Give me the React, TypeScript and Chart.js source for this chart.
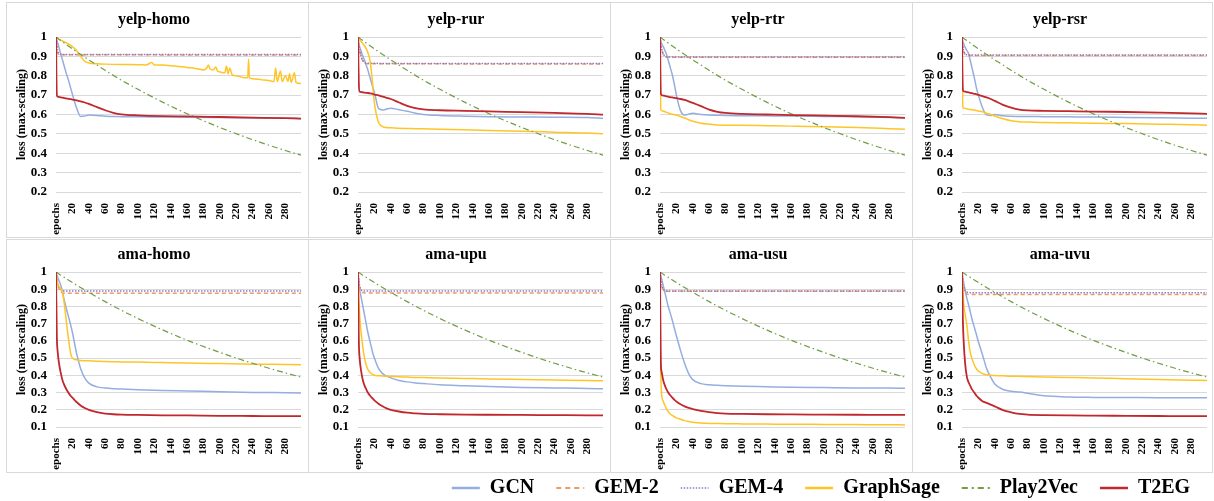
import React, { useEffect, useRef } from 'react';
import { Chart, registerables } from 'chart.js';

Chart.register(...registerables);

const FONT = '"Liberation Serif", "Times New Roman", serif';

// ---- shared axes / categories ----
const EPOCHS = [0, 1, 2, 4, 6, 8, 10, 12, 15, 18, 20, 25, 30, 35, 40, 50, 60, 70, 80, 100, 130, 160, 200, 240, 280, 299];
const GEM_EPOCHS = [0, 1, 2, 4, 6, 8, 10, 299];
const X_TICKS = [0, 20, 40, 60, 80, 100, 120, 140, 160, 180, 200, 220, 240, 260, 280];
const X_TICK_LABELS = ['epochs', '20', '40', '60', '80', '100', '120', '140', '160', '180', '200', '220', '240', '260', '280'];
const SERIES_NAMES = ['GCN', 'GEM-2', 'GEM-4', 'GraphSage', 'Play2Vec', 'T2EG'];
const PANEL_TITLES = ['yelp-homo', 'yelp-rur', 'yelp-rtr', 'yelp-rsr', 'ama-homo', 'ama-upu', 'ama-usu', 'ama-uvu'];
const Y_MIN = [0.2, 0.2, 0.2, 0.2, 0.1, 0.1, 0.1, 0.1];

// Play2Vec (same shape in every panel)
const PLAY2VEC = [1, 0.997, 0.994, 0.987, 0.981, 0.975, 0.969, 0.963, 0.954, 0.945, 0.939, 0.924, 0.91, 0.896, 0.882, 0.855, 0.828, 0.802, 0.777, 0.73, 0.664, 0.604, 0.533, 0.47, 0.414, 0.39];

// ---- yelp-homo ----
const YH_GCN = [1, 0.985, 0.97, 0.94, 0.91, 0.88, 0.85, 0.82, 0.78, 0.735, 0.705, 0.635, 0.59, 0.592, 0.597, 0.595, 0.591, 0.59, 0.589, 0.588, 0.587, 0.586, 0.584, 0.582, 0.58, 0.578];
const YH_GEM2 = [1, 0.95, 0.92, 0.909, 0.908, 0.908, 0.908, 0.907];
const YH_GEM4 = [1, 0.96, 0.93, 0.913, 0.911, 0.91, 0.91, 0.91];
const YH_SAGE_EPOCHS = [0, 5, 10, 15, 20, 25, 30, 35, 40, 50, 60, 80, 100, 110, 117, 120, 130, 140, 150, 160, 170, 180, 184, 186, 188, 192, 195, 197, 200, 206, 208, 210, 212, 215, 220, 225, 230, 234, 235, 236, 240, 250, 260, 266, 268, 270, 274, 276, 280, 283, 285, 287, 291, 293, 299];
const YH_SAGE = [1, 0.985, 0.975, 0.965, 0.95, 0.93, 0.9, 0.875, 0.866, 0.862, 0.86, 0.858, 0.857, 0.856, 0.868, 0.855, 0.855, 0.852, 0.848, 0.843, 0.838, 0.83, 0.84, 0.855, 0.835, 0.83, 0.845, 0.825, 0.82, 0.815, 0.85, 0.81, 0.84, 0.805, 0.8, 0.795, 0.79, 0.79, 0.885, 0.79, 0.785, 0.78, 0.775, 0.77, 0.84, 0.77, 0.825, 0.77, 0.8, 0.77, 0.81, 0.765, 0.815, 0.765, 0.76];
const YH_T2EG = [1, 0.7, 0.692, 0.69, 0.688, 0.687, 0.685, 0.683, 0.681, 0.679, 0.677, 0.673, 0.668, 0.662, 0.655, 0.638, 0.622, 0.609, 0.601, 0.596, 0.592, 0.59, 0.587, 0.584, 0.581, 0.579];

// ---- yelp-rur ----
const YR_GCN = [1, 0.97, 0.95, 0.925, 0.9, 0.88, 0.855, 0.83, 0.785, 0.74, 0.715, 0.632, 0.623, 0.628, 0.632, 0.625, 0.617, 0.607, 0.6, 0.595, 0.591, 0.588, 0.587, 0.586, 0.584, 0.58];
const YR_GEM2 = [1, 0.96, 0.93, 0.895, 0.875, 0.866, 0.862, 0.861];
const YR_GEM4 = [1, 0.965, 0.935, 0.898, 0.878, 0.868, 0.864, 0.863];
const YR_SAGE = [1, 0.99, 0.985, 0.975, 0.965, 0.955, 0.94, 0.92, 0.87, 0.75, 0.66, 0.56, 0.538, 0.532, 0.531, 0.529, 0.528, 0.527, 0.526, 0.524, 0.521, 0.518, 0.514, 0.509, 0.504, 0.5];
const YR_T2EG = [1, 0.76, 0.718, 0.716, 0.714, 0.713, 0.712, 0.711, 0.709, 0.706, 0.703, 0.699, 0.692, 0.686, 0.68, 0.662, 0.645, 0.633, 0.626, 0.622, 0.619, 0.616, 0.612, 0.608, 0.603, 0.599];

// ---- yelp-rtr ----
const YT_GCN = [1, 0.98, 0.965, 0.95, 0.93, 0.91, 0.88, 0.85, 0.805, 0.745, 0.7, 0.62, 0.597, 0.602, 0.606, 0.6, 0.597, 0.596, 0.595, 0.594, 0.593, 0.592, 0.59, 0.588, 0.585, 0.583];
const YT_GEM2 = [1, 0.96, 0.935, 0.91, 0.9, 0.896, 0.895, 0.895];
const YT_GEM4 = [1, 0.965, 0.94, 0.913, 0.902, 0.898, 0.897, 0.897];
const YT_SAGE = [1, 0.625, 0.62, 0.617, 0.614, 0.611, 0.608, 0.605, 0.602, 0.599, 0.597, 0.59, 0.582, 0.573, 0.565, 0.555, 0.55, 0.546, 0.545, 0.544, 0.542, 0.54, 0.537, 0.533, 0.527, 0.524];
const YT_T2EG = [1, 0.71, 0.7, 0.698, 0.696, 0.694, 0.692, 0.69, 0.688, 0.686, 0.684, 0.68, 0.675, 0.668, 0.66, 0.643, 0.625, 0.614, 0.608, 0.603, 0.6, 0.597, 0.594, 0.591, 0.586, 0.583];

// ---- yelp-rsr ----
const YS_GCN = [1, 0.98, 0.965, 0.945, 0.93, 0.915, 0.88, 0.845, 0.79, 0.73, 0.7, 0.635, 0.598, 0.595, 0.6, 0.593, 0.591, 0.59, 0.59, 0.589, 0.588, 0.587, 0.585, 0.583, 0.581, 0.58];
const YS_GEM2 = [1, 0.95, 0.925, 0.91, 0.906, 0.905, 0.905, 0.905];
const YS_GEM4 = [1, 0.955, 0.93, 0.913, 0.908, 0.907, 0.907, 0.907];
const YS_SAGE = [1, 0.64, 0.633, 0.631, 0.629, 0.627, 0.626, 0.625, 0.623, 0.62, 0.618, 0.614, 0.607, 0.6, 0.592, 0.578, 0.568, 0.563, 0.561, 0.559, 0.557, 0.555, 0.553, 0.55, 0.547, 0.545];
const YS_T2EG = [1, 0.73, 0.72, 0.718, 0.716, 0.714, 0.712, 0.71, 0.707, 0.704, 0.701, 0.695, 0.688, 0.68, 0.67, 0.65, 0.635, 0.625, 0.621, 0.619, 0.617, 0.615, 0.613, 0.61, 0.606, 0.603];

// ---- ama-homo ----
const AH_GCN = [1, 0.985, 0.97, 0.945, 0.92, 0.88, 0.84, 0.8, 0.745, 0.69, 0.65, 0.53, 0.44, 0.385, 0.355, 0.333, 0.326, 0.322, 0.32, 0.316, 0.312, 0.309, 0.305, 0.301, 0.299, 0.298];
const AH_GEM2 = [1, 0.96, 0.93, 0.9, 0.885, 0.878, 0.876, 0.876];
const AH_GEM4 = [1, 0.965, 0.94, 0.91, 0.897, 0.892, 0.89, 0.89];
const AH_SAGE = [1, 0.96, 0.93, 0.915, 0.9, 0.88, 0.82, 0.74, 0.62, 0.525, 0.5, 0.49, 0.486, 0.485, 0.484, 0.482, 0.48, 0.479, 0.478, 0.477, 0.474, 0.471, 0.468, 0.465, 0.463, 0.462];
const AH_T2EG = [1, 0.63, 0.54, 0.46, 0.41, 0.37, 0.345, 0.325, 0.3, 0.28, 0.27, 0.245, 0.225, 0.21, 0.2, 0.186, 0.178, 0.174, 0.172, 0.17, 0.168, 0.167, 0.165, 0.164, 0.163, 0.163];

// ---- ama-upu ----
const AP_GCN = [1, 0.95, 0.9, 0.85, 0.8, 0.75, 0.7, 0.65, 0.59, 0.53, 0.5, 0.44, 0.41, 0.395, 0.385, 0.37, 0.362, 0.356, 0.352, 0.345, 0.34, 0.335, 0.33, 0.327, 0.324, 0.322];
const AP_GEM2 = [1, 0.95, 0.91, 0.885, 0.88, 0.878, 0.878, 0.878];
const AP_GEM4 = [1, 0.955, 0.92, 0.895, 0.891, 0.89, 0.89, 0.89];
const AP_SAGE = [1, 0.85, 0.75, 0.64, 0.56, 0.5, 0.46, 0.435, 0.415, 0.405, 0.4, 0.398, 0.396, 0.395, 0.394, 0.392, 0.39, 0.388, 0.387, 0.385, 0.382, 0.379, 0.376, 0.373, 0.37, 0.368];
const AP_T2EG = [1, 0.6, 0.5, 0.42, 0.37, 0.34, 0.32, 0.3, 0.28, 0.265, 0.255, 0.235, 0.22, 0.208, 0.2, 0.19, 0.183, 0.179, 0.176, 0.174, 0.172, 0.171, 0.17, 0.169, 0.168, 0.168];

// ---- ama-usu ----
const AS_GCN = [1, 0.98, 0.96, 0.92, 0.88, 0.84, 0.8, 0.77, 0.72, 0.665, 0.63, 0.545, 0.47, 0.41, 0.375, 0.352, 0.345, 0.342, 0.34, 0.337, 0.334, 0.331, 0.329, 0.327, 0.326, 0.325];
const AS_GEM2 = [1, 0.95, 0.92, 0.895, 0.89, 0.888, 0.888, 0.888];
const AS_GEM4 = [1, 0.955, 0.925, 0.898, 0.892, 0.89, 0.89, 0.89];
const AS_SAGE = [0.64, 0.4, 0.29, 0.25, 0.225, 0.205, 0.19, 0.178, 0.167, 0.158, 0.153, 0.145, 0.137, 0.132, 0.128, 0.123, 0.121, 0.12, 0.119, 0.118, 0.117, 0.116, 0.115, 0.114, 0.113, 0.112];
const AS_T2EG = [1, 0.48, 0.42, 0.37, 0.34, 0.318, 0.3, 0.287, 0.27, 0.256, 0.248, 0.232, 0.22, 0.211, 0.204, 0.193, 0.186, 0.181, 0.178, 0.176, 0.174, 0.173, 0.172, 0.171, 0.17, 0.17];

// ---- ama-uvu ----
const AV_GCN = [1, 0.97, 0.94, 0.89, 0.845, 0.81, 0.77, 0.73, 0.68, 0.63, 0.595, 0.52, 0.44, 0.39, 0.35, 0.318, 0.308, 0.303, 0.296, 0.281, 0.274, 0.272, 0.271, 0.27, 0.27, 0.27];
const AV_GEM2 = [1, 0.95, 0.91, 0.88, 0.872, 0.87, 0.87, 0.87];
const AV_GEM4 = [1, 0.955, 0.92, 0.89, 0.883, 0.881, 0.88, 0.88];
const AV_SAGE = [1, 0.92, 0.82, 0.75, 0.69, 0.6, 0.535, 0.5, 0.46, 0.435, 0.425, 0.41, 0.403, 0.4, 0.399, 0.397, 0.395, 0.394, 0.393, 0.391, 0.388, 0.385, 0.38, 0.376, 0.372, 0.37];
const AV_T2EG = [1, 0.73, 0.6, 0.46, 0.39, 0.36, 0.34, 0.32, 0.3, 0.28, 0.27, 0.25, 0.24, 0.23, 0.22, 0.198, 0.185, 0.176, 0.172, 0.169, 0.167, 0.166, 0.165, 0.164, 0.163, 0.163];

type Series = { x: number[]; y: number[] };
const S = (y: number[], x: number[] = EPOCHS): Series => ({ x, y });
const G = (y: number[]): Series => ({ x: GEM_EPOCHS, y });

const PANEL_SERIES: Series[][] = [
  [S(YH_GCN), G(YH_GEM2), G(YH_GEM4), S(YH_SAGE, YH_SAGE_EPOCHS), S(PLAY2VEC), S(YH_T2EG)],
  [S(YR_GCN), G(YR_GEM2), G(YR_GEM4), S(YR_SAGE), S(PLAY2VEC), S(YR_T2EG)],
  [S(YT_GCN), G(YT_GEM2), G(YT_GEM4), S(YT_SAGE), S(PLAY2VEC), S(YT_T2EG)],
  [S(YS_GCN), G(YS_GEM2), G(YS_GEM4), S(YS_SAGE), S(PLAY2VEC), S(YS_T2EG)],
  [S(AH_GCN), G(AH_GEM2), G(AH_GEM4), S(AH_SAGE), S(PLAY2VEC), S(AH_T2EG)],
  [S(AP_GCN), G(AP_GEM2), G(AP_GEM4), S(AP_SAGE), S(PLAY2VEC), S(AP_T2EG)],
  [S(AS_GCN), G(AS_GEM2), G(AS_GEM4), S(AS_SAGE), S(PLAY2VEC), S(AS_T2EG)],
  [S(AV_GCN), G(AV_GEM2), G(AV_GEM4), S(AV_SAGE), S(PLAY2VEC), S(AV_T2EG)],
];

// ---- styles ----
const STYLES = [
  { color: '#95aee0', width: 1.5, dash: [] as number[], order: 5, legendWidth: 2.5, legendDash: [] as number[] },
  { color: '#ee9a66', width: 1.5, dash: [4, 3], order: 4, legendWidth: 2, legendDash: [5, 4] },
  { color: '#8e7cc3', width: 1.5, dash: [1.5, 1.5], order: 3, legendWidth: 1.5, legendDash: [1.5, 1.5] },
  { color: '#ffc527', width: 1.5, dash: [] as number[], order: 2, legendWidth: 2.5, legendDash: [] as number[] },
  { color: '#6f9e45', width: 1.2, dash: [6, 3, 1.5, 3], order: 1, legendWidth: 2, legendDash: [6, 4, 2, 4] },
  { color: '#c0282d', width: 1.8, dash: [] as number[], order: 0, legendWidth: 2.5, legendDash: [] as number[] },
];

const COL_LEFT = [6, 308, 610, 912];
const COL_W = [303, 303, 303, 301];
const ROW_TOP = [2, 239];
const ROW_H = [236, 234];

function Panel({ idx }: { idx: number }) {
  const ref = useRef<HTMLCanvasElement>(null);
  const row = idx < 4 ? 0 : 1;
  const col = idx % 4;
  const w = COL_W[col];
  const h = ROW_H[row];
  const cw = w - 2;
  const ch = h - 2;
  const chartTop = row === 0 ? 34 : 32;
  const plotH = 155;
  const yW = 49;
  const plotW = 245;
  const titleTop = chartTop - 27;
  const titleBottom = chartTop - 19.2 - titleTop;

  useEffect(() => {
    if (!ref.current) return;
    const series = PANEL_SERIES[idx];
    const chart = new Chart(ref.current, {
      type: 'line',
      data: {
        datasets: series.map((s, i) => ({
          label: SERIES_NAMES[i],
          data: s.x.map((x, j) => ({ x, y: s.y[j] })),
          borderColor: STYLES[i].color,
          backgroundColor: STYLES[i].color,
          borderWidth: STYLES[i].width,
          borderDash: STYLES[i].dash,
          pointRadius: 0,
          cubicInterpolationMode: 'monotone' as const,
          order: STYLES[i].order,
          fill: false,
        })),
      },
      options: {
        responsive: false,
        maintainAspectRatio: false,
        animation: false,
        events: [],
        layout: { padding: { left: 0, right: cw - yW - plotW, top: 0, bottom: 0 } },
        plugins: {
          legend: { display: false },
          tooltip: { enabled: false },
          title: {
            display: true,
            text: PANEL_TITLES[idx],
            color: '#000',
            font: { family: FONT, size: 16, weight: 'bold' },
            padding: { top: titleTop, bottom: titleBottom },
          },
        },
        scales: {
          x: {
            type: 'linear',
            min: 0,
            max: 299,
            grid: { display: false },
            border: { display: false },
            afterBuildTicks: (axis: any) => {
              axis.ticks = X_TICKS.map((v) => ({ value: v }));
            },
            afterFit: (axis: any) => {
              axis.height = ch - chartTop - plotH;
            },
            ticks: {
              autoSkip: false,
              minRotation: 90,
              maxRotation: 90,
              padding: 3,
              color: '#000',
              font: { family: FONT, size: 11, weight: 'bold' },
              callback: (v: any) => {
                const k = X_TICKS.indexOf(Number(v));
                return k >= 0 ? X_TICK_LABELS[k] : '';
              },
            },
          },
          y: {
            type: 'linear',
            min: Y_MIN[idx],
            max: 1,
            border: { display: false },
            grid: { color: '#d9d9d9', lineWidth: 1, drawTicks: false },
            afterFit: (axis: any) => {
              axis.width = yW;
            },
            ticks: {
              stepSize: 0.1,
              autoSkip: false,
              padding: 9,
              color: '#000',
              font: { family: FONT, size: 13, weight: 'bold' },
              callback: (v: any) => String(Math.round(Number(v) * 10) / 10),
            },
            title: {
              display: true,
              text: 'loss (max-scaling)',
              color: '#000',
              font: { family: FONT, size: 12, weight: 'bold' },
              padding: { top: 8, bottom: 0 },
            },
          },
        },
      },
    } as any);
    return () => chart.destroy();
  }, [idx]);

  return (
    <div
      style={{
        position: 'absolute',
        left: COL_LEFT[col],
        top: ROW_TOP[row],
        width: w,
        height: h,
        border: '1px solid #d9d9d9',
        boxSizing: 'border-box',
        background: '#fff',
      }}
    >
      <canvas ref={ref} width={cw} height={ch} style={{ display: 'block', width: cw, height: ch }} />
    </div>
  );
}

const LEGEND_W = 900;
const LEGEND_H = 160;

function Legend() {
  const ref = useRef<HTMLCanvasElement>(null);
  useEffect(() => {
    if (!ref.current) return;
    const chart = new Chart(ref.current, {
      type: 'line',
      data: {
        datasets: SERIES_NAMES.map((name, i) => ({
          label: name,
          data: [],
          borderColor: STYLES[i].color,
          backgroundColor: STYLES[i].color,
          borderWidth: STYLES[i].legendWidth,
          borderDash: STYLES[i].legendDash,
        })),
      },
      options: {
        responsive: false,
        maintainAspectRatio: false,
        animation: false,
        events: [],
        layout: { padding: 0 },
        scales: { x: { display: false }, y: { display: false } },
        plugins: {
          tooltip: { enabled: false },
          title: { display: false },
          legend: {
            display: true,
            position: 'top',
            align: 'center',
            labels: {
              usePointStyle: true,
              pointStyle: 'line',
              pointStyleWidth: 28,
              padding: 22,
              color: '#000',
              font: { family: FONT, size: 20, weight: 'bold' },
              generateLabels: (c: any) => {
                const items = (Chart.defaults as any).plugins.legend.labels.generateLabels(c);
                return items.map((it: any, i: number) => ({
                  ...it,
                  strokeStyle: STYLES[i].color,
                  fillStyle: STYLES[i].color,
                  lineWidth: STYLES[i].legendWidth,
                  lineDash: STYLES[i].legendDash,
                  pointStyle: 'line',
                }));
              },
            },
          },
        },
      },
    } as any);
    return () => chart.destroy();
  }, []);
  return (
    <canvas
      ref={ref}
      width={LEGEND_W}
      height={LEGEND_H}
      style={{ position: 'absolute', left: 821 - LEGEND_W / 2, top: 456, width: LEGEND_W, height: LEGEND_H, display: 'block' }}
    />
  );
}

export default function App() {
  return (
    <div
      style={{
        position: 'fixed',
        left: 0,
        top: 0,
        width: 1214,
        height: 501,
        overflow: 'hidden',
        background: '#fff',
      }}
    >
      {PANEL_TITLES.map((_, i) => (
        <Panel key={i} idx={i} />
      ))}
      <Legend />
    </div>
  );
}
